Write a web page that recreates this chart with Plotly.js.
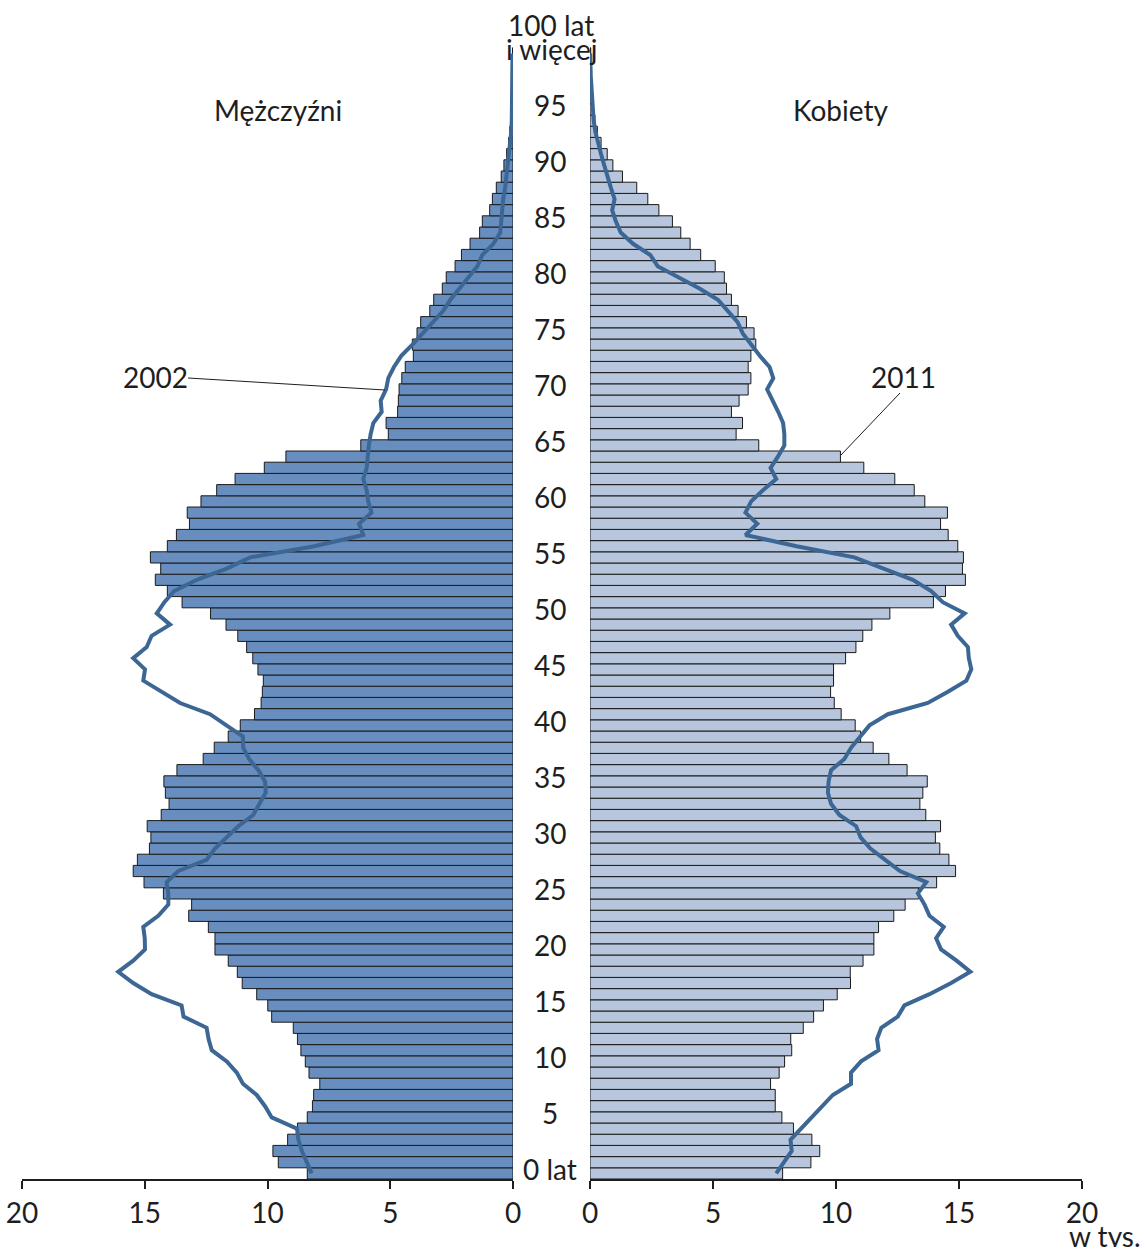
<!DOCTYPE html>
<html>
<head>
<meta charset="utf-8">
<script src="https://cdn.plot.ly/plotly-3.0.1.min.js"></script>
<style>html,body{margin:0;padding:0;background:#fff;}#chart{width:1147px;height:1247px;}</style>
</head>
<body>
<div id="chart"></div>
<script>
// Ages 0..100 (100 = "100 lat i więcej")
const ages = Array.from({length: 101}, (_, i) => i);

// Bars (2011), thousands
const men2011 = [8.38,9.56,9.78,9.18,8.78,8.38,8.17,8.12,7.87,8.31,
  8.46,8.64,8.78,8.95,9.83,9.99,10.44,11.03,11.23,11.60,
  12.14,12.14,12.41,13.21,13.09,14.24,15.03,15.47,15.30,14.81,
  14.75,14.90,14.33,14.01,14.16,14.22,13.69,12.62,12.17,11.60,
  11.11,10.53,10.26,10.21,10.17,10.39,10.60,10.85,11.21,11.69,
  12.32,13.48,14.08,14.57,14.35,14.77,14.08,13.71,13.18,13.27,
  12.71,12.07,11.32,10.13,9.25,6.20,5.08,5.17,4.70,4.67,
  4.64,4.53,4.39,4.06,4.10,3.91,3.76,3.39,3.23,2.88,
  2.72,2.36,2.10,1.75,1.36,1.25,0.95,0.84,0.68,0.48,
  0.37,0.26,0.18,0.13,0.09,0.06,0.04,0.03,0.02,0.01,0.02];

const women2011 = [7.83,8.98,9.34,9.02,8.27,7.80,7.53,7.53,7.34,7.69,
  7.91,8.20,8.16,8.67,9.09,9.49,10.05,10.59,10.58,11.10,
  11.54,11.54,11.73,12.35,12.81,13.35,14.09,14.86,14.59,14.22,
  14.04,14.25,13.65,13.41,13.53,13.71,12.89,12.15,11.51,11.00,
  10.78,10.21,9.93,9.78,9.90,9.90,10.39,10.81,11.09,11.46,
  12.19,13.96,14.45,15.26,15.14,15.18,14.95,14.56,14.25,14.53,
  13.61,13.18,12.39,11.13,10.18,6.86,5.94,6.20,5.75,6.06,
  6.43,6.54,6.43,6.54,6.74,6.67,6.36,6.02,5.75,5.55,
  5.46,5.09,4.50,4.07,3.69,3.35,2.80,2.35,1.90,1.32,
  0.93,0.70,0.45,0.30,0.20,0.13,0.09,0.06,0.04,0.02,0.03];

// Lines (2002), thousands
const men2002 = [8.2,8.4,8.6,8.74,8.8,9.83,10.1,10.44,11.0,11.25,
  11.66,12.27,12.4,12.48,13.42,13.5,14.72,15.47,16.08,15.47,
  14.99,15.0,15.06,14.45,14.04,14.04,14.11,13.63,12.48,12.14,
  11.66,11.19,10.58,10.33,10.07,10.10,10.37,10.75,10.99,11.0,
  11.66,12.34,13.56,14.31,15.06,14.99,15.47,14.92,14.72,13.97,
  14.51,14.2,13.8,12.88,11.66,10.71,8.1,6.1,6.27,5.76,
  5.9,5.96,6.10,5.96,5.93,5.87,5.8,5.69,5.35,5.39,
  5.17,5.08,4.85,4.55,4.1,3.7,3.25,2.85,2.55,2.2,
  1.85,1.45,1.25,0.8,0.52,0.48,0.45,0.4,0.32,0.27,
  0.2,0.13,0.09,0.07,0.05,0.04,0.03,0.03,0.02,0.02,0.02];

const women2002 = [7.57,7.9,8.2,8.15,8.58,8.99,9.46,9.87,10.61,10.61,
  11.02,11.73,11.67,11.84,12.51,12.78,13.8,14.68,15.46,14.9,
  14.27,14.07,14.38,13.8,13.6,13.33,13.67,12.6,12.0,11.4,
  11.0,10.82,10.14,9.8,9.67,9.7,9.8,10.34,10.61,11.0,
  11.36,12.11,13.73,14.55,15.3,15.5,15.4,15.36,14.95,14.68,
  15.23,14.34,13.87,13.12,11.97,10.75,8.4,6.32,6.8,6.32,
  6.55,7.03,7.57,7.34,7.64,7.9,7.9,7.85,7.65,7.43,
  7.2,7.45,7.3,6.9,6.55,6.21,6.0,5.6,5.2,4.45,
  3.6,2.75,2.45,1.75,1.25,1.05,0.9,1.0,0.85,0.7,
  0.58,0.45,0.33,0.22,0.15,0.11,0.08,0.05,0.03,0.02,0.01];

// Age axis labels
const ageTickVals = [0,5,10,15,20,25,30,35,40,45,50,55,60,65,70,75,80,85,90,95];
const ageTickText = ['0 lat','5','10','15','20','25','30','35','40','45','50','55','60','65','70','75','80','85','90','95'];
const topLabel = ['100 lat','i więcej'];
const xTicks = [0,5,10,15,20];

const FONT = 'Lato, "Open Sans", sans-serif';
const FS = 28;
const TXT = '#1e1e1e';
const MEN_COLOR = '#688ec0';
const WOMEN_COLOR = '#b7c6dd';
const LINE_COLOR = '#3c6795';
const W = 1147, H = 1247;

const traces = [
  {type:'bar', orientation:'h', x: men2011, y: ages, xaxis:'x', yaxis:'y',
   marker:{color: MEN_COLOR, line:{color:'#1a1a1a', width:1}}, hoverinfo:'skip'},
  {type:'bar', orientation:'h', x: women2011, y: ages, xaxis:'x2', yaxis:'y',
   marker:{color: WOMEN_COLOR, line:{color:'#1a1a1a', width:1}}, hoverinfo:'skip'},
  {type:'scatter', mode:'lines', x: men2002, y: ages, xaxis:'x', yaxis:'y',
   line:{color: LINE_COLOR, width:4}, hoverinfo:'skip'},
  {type:'scatter', mode:'lines', x: women2002, y: ages, xaxis:'x2', yaxis:'y',
   line:{color: LINE_COLOR, width:4}, hoverinfo:'skip'}
];

const xCommon = {
  tickvals: xTicks, ticktext: xTicks.map(String),
  ticks:'outside', ticklen:8, tickwidth:2, tickcolor:'#1e1e1e',
  showline:true, linecolor:'#1e1e1e', linewidth:2,
  showgrid:false, zeroline:false, anchor:'y',
  tickfont:{family: FONT, size: FS, color: TXT}, fixedrange:true
};

const annotations = [];
const midX = 550 / W;
const txtFont = {family: FONT, size: FS, color: TXT};
ageTickVals.forEach((a, i) => {
  annotations.push({text: ageTickText[i], xref:'paper', yref:'y', x: midX, y: a + 0.35,
    showarrow:false, xanchor:'center', yanchor:'middle', font: txtFont});
});
function paperText(text, px, py) {
  annotations.push({text: text, xref:'paper', yref:'paper', x: px / W, y: 1 - py / H,
    showarrow:false, xanchor:'center', yanchor:'middle', font: txtFont});
}
paperText(topLabel[0], 551, 25);
paperText(topLabel[1], 551, 49);
paperText('Mężczyźni', 278, 110);
paperText('Kobiety', 840, 110);
paperText('2002', 155, 377);
paperText('2011', 903, 377);
paperText('w tys.', 1105, 1236);

const shapes = [
  {type:'line', xref:'paper', yref:'paper', x0: 188/W, y0: 1 - 378/H, x1: 385/W, y1: 1 - 390/H,
   line:{color:'#1e1e1e', width:1}},
  {type:'line', xref:'paper', yref:'paper', x0: 900/W, y0: 1 - 393/H, x1: 841/W, y1: 1 - 455/H,
   line:{color:'#1e1e1e', width:1}}
];

const layout = {
  width: W, height: H,
  margin:{l:0, r:0, t:0, b:0},
  paper_bgcolor:'#fff', plot_bgcolor:'rgba(0,0,0,0)',
  showlegend:false, barmode:'overlay', bargap:0,
  font:{family: FONT, color: TXT},
  xaxis: Object.assign({}, xCommon, {domain:[22/W, 513/W], range:[20, 0]}),
  xaxis2: Object.assign({}, xCommon, {domain:[590/W, 1082/W], range:[0, 20]}),
  yaxis: {domain:[(H-1179)/H, 1], range:[-0.5, -0.5 + 1179/11.2], visible:false, fixedrange:true},
  annotations: annotations,
  shapes: shapes
};

Plotly.newPlot('chart', traces, layout, {staticPlot:true, displayModeBar:false});
</script>
</body>
</html>
